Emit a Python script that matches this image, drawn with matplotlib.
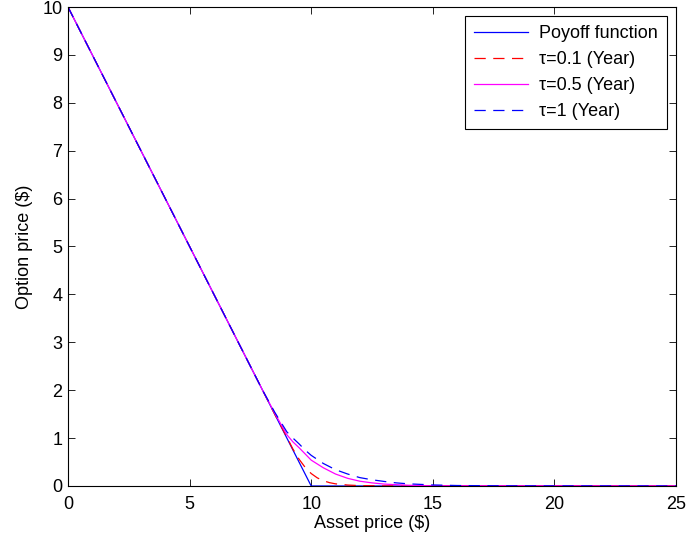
import matplotlib
matplotlib.use("Agg")
import matplotlib.pyplot as plt

plt.rcParams['font.family'] = ['Liberation Sans', 'DejaVu Sans']

# payoff of the put, strike 10
payoff_s = [0, 10, 25]
payoff_v = [10, 0, 0]

# tau = 0.1 year
s_01 = [0, 8.5, 9.0, 9.25, 9.5, 9.75, 10.0, 10.25, 10.5, 10.75, 11.0, 11.5, 12.0, 13.0, 25]
v_01 = [10, 1.5, 1.02, 0.77, 0.56, 0.39, 0.26, 0.17, 0.11, 0.07, 0.045, 0.02, 0.008, 0.002, 0]

# tau = 0.5 year
s_05 = [0, 8.0, 8.5, 9.0, 9.25, 9.5, 9.75, 10.0, 10.5, 11.0, 11.5, 12.0, 12.5, 13.0, 14.0, 15.0, 25]
v_05 = [10, 2.0, 1.52, 1.07, 0.92, 0.80, 0.67, 0.54, 0.38, 0.25, 0.16, 0.10, 0.065, 0.04, 0.015, 0.005, 0]

# tau = 1 year
s_1 = [0, 8.0, 8.5, 9.0, 9.25, 9.5, 9.75, 10.0, 10.5, 11.0, 11.5, 12.0, 12.5, 13.0, 13.5, 14.0, 15.0, 16.0, 18.0, 25]
v_1 = [10, 2.0, 1.54, 1.13, 1.0, 0.88, 0.75, 0.64, 0.47, 0.34, 0.25, 0.175, 0.13, 0.095, 0.065, 0.045, 0.022, 0.01, 0.003, 0]

fig = plt.figure(figsize=(6.88, 5.40), dpi=100)
ax = fig.add_axes([68/688, 1 - 486/540, (676 - 68)/688, (486 - 7)/540])

lw = 0.9
ax.plot(payoff_s, payoff_v, color='#0000ff', lw=lw, label='Poyoff function')
ax.plot(s_01, v_01, color='#ff0000', lw=lw, ls=(0, (9, 6)), label='τ=0.1 (Year)')
ax.plot(s_05, v_05, color='#ff00ff', lw=lw, label='τ=0.5 (Year)')
ax.plot(s_1, v_1, color='#0000ff', lw=lw, ls=(0, (9, 6)), label='τ=1 (Year)')

ax.set_xlim(0, 25)
ax.set_ylim(0, 10)
ax.set_xticks([0, 5, 10, 15, 20, 25])
ax.set_yticks(range(0, 11))
ax.tick_params(direction='in', top=True, right=True, length=5, width=0.6,
               labelsize=13, pad=4)
ax.tick_params(axis='x', pad=7)
for sp in ax.spines.values():
    sp.set_linewidth(0.8)

ax.set_xlabel('Asset price ($)', fontsize=13, labelpad=2)
ax.set_ylabel('Option price ($)', fontsize=13, labelpad=7)

leg = ax.legend(loc='upper right', fontsize=13, frameon=True, fancybox=False,
                edgecolor='black', framealpha=1, handlelength=3.0,
                borderpad=0.5, labelspacing=0.5, handletextpad=0.6,
                borderaxespad=0.5)
leg.get_frame().set_linewidth(0.8)

fig.savefig('out.png', dpi=100)
